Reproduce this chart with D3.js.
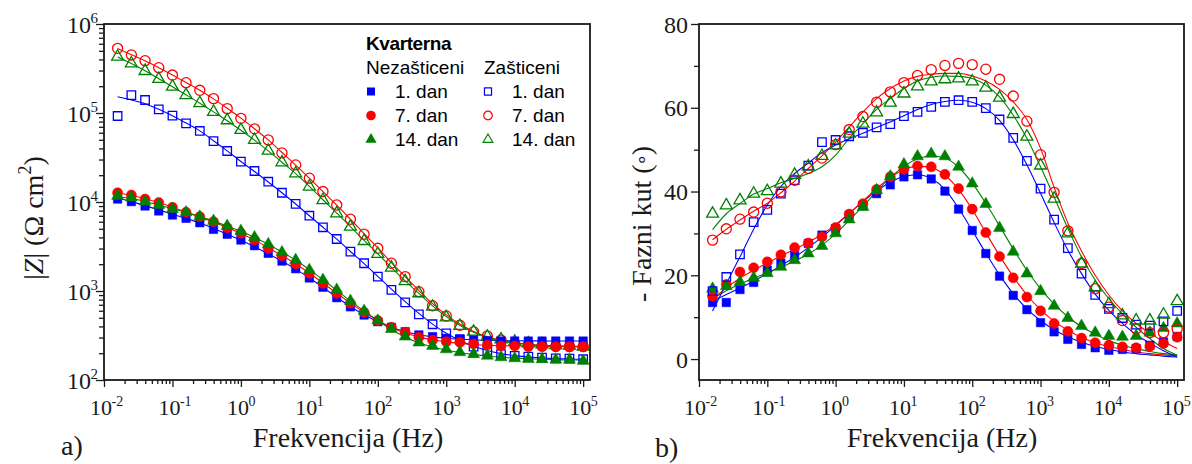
<!DOCTYPE html>
<html>
<head>
<meta charset="utf-8">
<script src="https://cdn.jsdelivr.net/npm/d3@7"></script>
<style>
body { margin:0; background:#fff; }
svg { display:block; }
</style>
</head>
<body>
<div id="chart"></div>
<script>
// measuring frequencies (Hz), 5 per decade
let freq = [0.0158, 0.0251, 0.0398, 0.0631, 0.1, 0.158, 0.251, 0.398, 0.631, 1,
  1.58, 2.51, 3.98, 6.31, 10, 15.8, 25.1, 39.8, 63.1, 100,
  158, 251, 398, 631, 1000, 1580, 2510, 3980, 6310, 10000,
  15800, 25100, 39800, 63100, 100000];

// |Z| (Ohm cm2) - measured
let zNez1 = [10800, 10100, 9020, 7930, 7140, 6560, 5850, 4930, 4340, 3740, 3230, 2650, 2170, 1780, 1400, 1100, 841, 664, 537, 452, 391, 349, 321, 307, 294, 289, 281, 277, 274, 274, 274, 274, 274, 274, 274];
let zNez7 = [12700, 12000, 10800, 9840, 8710, 7660, 6840, 6010, 5140, 4450, 3740, 3020, 2490, 2010, 1580, 1220, 942, 728, 575, 465, 391, 344, 302, 281, 269, 265, 254, 247, 241, 241, 237, 237, 237, 237, 237];
let zNez14 = [11700, 11200, 10100, 9250, 8340, 7660, 6840, 6120, 5370, 4720, 4010, 3350, 2720, 2230, 1720, 1330, 1030, 773, 596, 465, 374, 307, 263, 241, 221, 205, 195, 187, 180, 175, 172, 171, 169, 169, 164];
let zZas1 = [92500, 159000, 140000, 110000, 93300, 76600, 62800, 48400, 37400, 28400, 22300, 16900, 12700, 9510, 7010, 5200, 3840, 2770, 2050, 1450, 1030, 746, 547, 423, 335, 286, 237, 212, 195, 187, 183, 178, 175, 174, 171];
let zZas7 = [533000, 449000, 387000, 323000, 267000, 219000, 180000, 145000, 112000, 87100, 66400, 49800, 35600, 26100, 18500, 13100, 9250, 6400, 4340, 3020, 2050, 1450, 982, 684, 524, 412, 349, 312, 281, 258, 247, 241, 238, 237, 237];
let zZas14 = [430000, 361000, 296000, 241000, 198000, 159000, 129000, 103000, 82800, 64400, 49800, 37700, 27900, 20900, 14900, 10500, 7460, 5270, 3640, 2610, 1830, 1290, 942, 667, 506, 405, 349, 307, 286, 269, 258, 252, 247, 243, 237];

// |Z| - fitted curves
let fitZNez1 = [11000, 10100, 9100, 8150, 7300, 6550, 5800, 5050, 4350, 3720, 3150, 2620, 2160, 1760, 1400, 1100, 850, 670, 540, 452, 392, 350, 322, 305, 294, 287, 282, 279, 277, 276, 275, 275, 274, 274, 274];
let fitZNez7 = [12700, 11900, 10900, 9850, 8750, 7700, 6800, 5950, 5150, 4420, 3730, 3060, 2500, 2010, 1590, 1230, 945, 730, 575, 465, 390, 340, 305, 283, 268, 258, 251, 246, 243, 241, 240, 239, 238, 238, 237];
let fitZNez14 = [11400, 11000, 10100, 9250, 8400, 7650, 6850, 6100, 5350, 4680, 4000, 3350, 2740, 2220, 1740, 1340, 1020, 775, 595, 465, 370, 305, 262, 235, 217, 204, 194, 186, 180, 176, 173, 171, 169, 168, 167];
let fitZZas1 = [152000, 140000, 127000, 110000, 93000, 77000, 63000, 48800, 37500, 28500, 22000, 16800, 12700, 9500, 7000, 5200, 3830, 2780, 2030, 1460, 1050, 760, 560, 425, 335, 278, 240, 215, 198, 188, 181, 177, 174, 172, 171];
let fitZZas7 = [530000, 452000, 386000, 323000, 268000, 220000, 180000, 144000, 113000, 87500, 66500, 49800, 36000, 26000, 18500, 13100, 9200, 6400, 4400, 3050, 2080, 1450, 1010, 720, 540, 425, 350, 305, 278, 262, 252, 246, 242, 240, 239];
let fitZZas14 = [425000, 360000, 298000, 243000, 197000, 160000, 129000, 103000, 82000, 64000, 49500, 37500, 28000, 20800, 15000, 10600, 7500, 5300, 3700, 2620, 1840, 1300, 940, 680, 515, 410, 345, 302, 276, 260, 250, 244, 240, 238, 236];

// -phase angle (deg) - measured
let phNez1 = [13.5, 13.5, 16.6, 18.3, 21.2, 22.9, 24.8, 27.6, 29.6, 31.2, 34.3, 36.6, 39.5, 41.6, 43.5, 44.0, 43.0, 40.1, 35.8, 30.7, 25.2, 19.8, 15.2, 11.8, 8.7, 6.5, 4.7, 3.5, 2.7, 2.1, 2.3, 2.5, 3.3, 4.1, 5.4];
let phNez7 = [15.0, 17.8, 20.8, 21.8, 23.2, 24.9, 26.6, 27.7, 29.2, 31.4, 34.6, 37.1, 40.5, 43.5, 45.3, 46.1, 45.9, 44.1, 40.7, 35.8, 30.2, 24.5, 19.4, 14.8, 11.5, 8.5, 6.6, 5.0, 3.9, 3.3, 2.9, 2.7, 3.0, 3.7, 5.2];
let phNez14 = [16.8, 17.4, 18.4, 19.4, 20.5, 22.0, 23.6, 25.2, 27.0, 30.0, 33.3, 36.3, 40.3, 43.6, 46.5, 48.4, 49.0, 48.4, 45.9, 41.9, 37.0, 31.3, 25.6, 20.4, 16.2, 12.7, 9.8, 7.9, 6.3, 5.5, 5.3, 5.5, 6.3, 7.4, 8.5];
let phZas1 = [16.2, 19.6, 25.0, 32.7, 35.6, 39.5, 42.7, 46.2, 51.8, 52.3, 53.2, 54.0, 55.3, 56.1, 58.0, 59.0, 60.2, 61.4, 61.8, 61.4, 59.9, 57.2, 52.8, 47.3, 40.7, 33.3, 26.5, 20.4, 15.3, 12.0, 9.8, 8.2, 8.0, 9.0, 11.5];
let phZas7 = [28.4, 31.1, 33.4, 35.1, 37.2, 39.9, 42.7, 45.5, 48.0, 51.2, 54.8, 57.9, 61.3, 63.8, 66.0, 67.7, 69.1, 70.1, 70.6, 70.3, 69.2, 66.8, 62.8, 56.8, 48.8, 39.8, 30.6, 22.8, 16.8, 12.4, 9.2, 7.2, 6.3, 6.3, 7.2];
let phZas14 = [34.7, 36.7, 37.9, 39.5, 40.1, 41.9, 44.0, 46.0, 48.5, 51.0, 53.8, 56.2, 58.9, 61.2, 63.4, 65.1, 66.3, 66.8, 67.0, 66.3, 64.8, 62.4, 58.5, 53.1, 46.2, 38.3, 30.0, 22.8, 17.1, 13.1, 10.4, 9.2, 9.2, 10.6, 13.8];

// -phase angle - fitted curves
let fitPhNez1 = [13.8, 15.4, 17.0, 18.6, 20.4, 22.3, 24.3, 26.6, 29.1, 31.9, 34.8, 37.6, 40.1, 42.2, 43.6, 44.0, 43.1, 40.5, 36.0, 30.7, 25.3, 20.1, 15.6, 12.0, 9.2, 7.0, 5.3, 4.0, 3.0, 2.3, 1.7, 1.3, 1.0, 0.7, 0.5];
let fitPhNez7 = [14.3, 17.0, 19.3, 21.2, 22.9, 24.6, 26.2, 27.9, 29.8, 32.1, 34.8, 37.7, 40.7, 43.3, 45.2, 46.0, 45.7, 43.9, 40.5, 35.7, 30.2, 24.7, 19.7, 15.3, 11.8, 9.0, 6.9, 5.2, 3.9, 3.0, 2.3, 1.7, 1.3, 1.0, 0.8];
let fitPhNez14 = [14.4, 16.3, 17.9, 19.3, 20.6, 21.9, 23.4, 25.1, 27.2, 29.9, 33.1, 36.5, 40.0, 43.3, 46.0, 47.8, 48.5, 48.0, 45.8, 42.0, 37.2, 31.8, 26.3, 21.2, 16.8, 13.1, 10.1, 7.7, 5.9, 4.4, 3.3, 2.5, 1.8, 1.3, 1.0];
let fitPhZas1 = [11.5, 18.0, 24.4, 31.0, 36.8, 41.2, 44.3, 46.8, 49.3, 51.1, 52.6, 53.9, 55.3, 56.6, 58.1, 59.6, 60.8, 61.5, 61.8, 61.3, 59.8, 57.0, 52.4, 46.4, 39.6, 32.6, 26.0, 20.4, 15.5, 11.6, 8.5, 5.8, 3.8, 2.0, 0.5];
let fitPhZas7 = [28.5, 31.0, 33.2, 35.3, 37.2, 39.7, 42.5, 45.5, 48.5, 51.8, 55.4, 59.0, 62.2, 64.6, 66.4, 67.5, 68.0, 68.2, 68.2, 67.6, 66.4, 64.4, 61.4, 57.2, 50.3, 41.0, 32.5, 25.8, 20.0, 15.3, 11.5, 8.5, 6.2, 4.2, 2.5];
let fitPhZas14 = [30.9, 34.7, 37.1, 39.4, 40.7, 42.1, 43.1, 44.3, 45.9, 48.7, 52.7, 56.2, 59.6, 62.2, 64.6, 66.4, 67.3, 67.6, 67.5, 67.0, 65.4, 62.6, 58.2, 52.7, 45.9, 38.7, 31.2, 24.4, 18.8, 14.4, 10.8, 7.6, 4.9, 2.5, 0.9];

// axis ticks
let freqTicks = [1e-2, 1e-1, 1, 10, 100, 1e3, 1e4, 1e5];
let freqExp = ["-2", "-1", "0", "1", "2", "3", "4", "5"];
let zTicks = [1e2, 1e3, 1e4, 1e5, 1e6];
let zExp = ["2", "3", "4", "5", "6"];
let phTicks = [0, 20, 40, 60, 80];
let phMinor = [10, 30, 50, 70];
let dayLabels = ["1. dan", "7. dan", "14. dan"];

let serif = "'Liberation Serif','Times New Roman',serif";
let sans = "'Liberation Sans',Arial,sans-serif";
let ink = "#1a1a1a";
let colors = ["#0000ff", "#ff0000", "#008000"];
let shapes = [d3.symbolSquare, d3.symbolCircle, d3.symbolTriangle];
let sizes = [72, 80, 62];

let svg = d3.select("#chart").append("svg")
  .attr("width", 1192)
  .attr("height", 464);

// log minor ticks between decades
let minorLog = (decades, max) => {
  let out = [];
  decades.slice(0, -1).forEach(d => {
    for (let m = 2; m <= 9; m++) if (d * m <= max) out.push(d * m);
  });
  return out;
}

let powLabel = (x, y, exp, anchor, fs) => {
  let t = svg.append("text")
    .attr("x", x).attr("y", y)
    .attr("text-anchor", anchor)
    .style("font-family", serif)
    .style("font-size", fs + "px")
    .attr("fill", ink);
  t.append("tspan").text("10");
  t.append("tspan").attr("dy", -Math.round(fs * 0.42)).attr("dx", -0.5)
    .style("font-size", Math.round(fs * 0.63) + "px").text(exp);
}

let tickAxis = (axis, transform) => {
  svg.append("g")
    .attr("transform", transform)
    .attr("color", ink)
    .call(axis)
    .call(g => g.select(".domain").remove())
    .selectAll("line").attr("stroke-width", 1.3);
}

let drawSeries = (x, y, series) => {
  let line = d3.line()
    .x((d, i) => x(freq[i]))
    .y(d => y(d))
    .curve(d3.curveMonotoneX);

  series.forEach(s => {
    svg.append("path")
      .datum(s.fit)
      .attr("d", line)
      .attr("fill", "none")
      .attr("stroke", s.color)
      .attr("stroke-width", 1.1);
  });

  series.forEach(s => {
    svg.append("g").selectAll("path")
      .data(s.pts)
      .enter()
      .append("path")
      .attr("transform", (d, i) => "translate(" + x(freq[i]) + "," + y(d) + ")")
      .attr("d", d3.symbol().type(s.shape).size(s.size))
      .attr("fill", s.open ? "none" : s.color)
      .attr("stroke", s.color)
      .attr("stroke-width", s.open ? 1.3 : 0.5);
  });
}

let xMax = 125900;

// ---------------- a) |Z| ----------------
let xL = d3.scaleLog().domain([0.01, xMax]).range([104, 590]);
let yL = d3.scaleLog().domain([100, 1e6]).range([380, 24]);

let zSeries = [
  {pts: zZas1, fit: fitZZas1, open: true},
  {pts: zZas7, fit: fitZZas7, open: true},
  {pts: zZas14, fit: fitZZas14, open: true},
  {pts: zNez1, fit: fitZNez1, open: false},
  {pts: zNez7, fit: fitZNez7, open: false},
  {pts: zNez14, fit: fitZNez14, open: false}
].map((s, i) => Object.assign(s, {color: colors[i % 3], shape: shapes[i % 3], size: sizes[i % 3]}));

drawSeries(xL, yL, zSeries);

tickAxis(d3.axisBottom(xL).tickValues(freqTicks).tickSize(7).tickFormat(""), "translate(0,380)");
tickAxis(d3.axisBottom(xL).tickValues(minorLog(freqTicks, xMax)).tickSize(4).tickFormat(""), "translate(0,380)");
tickAxis(d3.axisLeft(yL).tickValues(zTicks).tickSize(8).tickFormat(""), "translate(104,0)");
tickAxis(d3.axisLeft(yL).tickValues(minorLog(zTicks, 1e6)).tickSize(5).tickFormat(""), "translate(104,0)");

svg.append("rect")
  .attr("x", 104).attr("y", 24)
  .attr("width", 486).attr("height", 356)
  .attr("fill", "none")
  .attr("stroke", ink)
  .attr("stroke-width", 1.8);

freqTicks.forEach((t, i) => powLabel(xL(t) - 14, 415, freqExp[i], "start", 22));
zTicks.forEach((t, i) => powLabel(98, yL(t) + 9, zExp[i], "end", 24));

// legend
let legend = svg.append("g").style("font-family", sans).style("font-size", "19px").attr("fill", "#000");
legend.append("text").attr("x", 366).attr("y", 50).style("font-weight", "bold").style("letter-spacing", "-0.4px").text("Kvarterna");
legend.append("text").attr("x", 366).attr("y", 74).text("Nezašticeni");
legend.append("text").attr("x", 484).attr("y", 74).text("Zašticeni");
dayLabels.forEach((lab, i) => {
  let yy = 97.5 + i * 24;
  legend.append("path")
    .attr("transform", "translate(371," + (yy - 6) + ")")
    .attr("d", d3.symbol().type(shapes[i]).size(sizes[i] - 8))
    .attr("fill", colors[i]);
  legend.append("text").attr("x", 395).attr("y", yy).text(lab);
  legend.append("path")
    .attr("transform", "translate(488," + (yy - 6) + ")")
    .attr("d", d3.symbol().type(shapes[i]).size(sizes[i] - 22))
    .attr("fill", "none")
    .attr("stroke", colors[i])
    .attr("stroke-width", 1.2);
  legend.append("text").attr("x", 512).attr("y", yy).text(lab);
});

// axis titles
svg.append("text")
  .attr("x", 348).attr("y", 447)
  .attr("text-anchor", "middle")
  .style("font-family", serif).style("font-size", "28px").attr("fill", ink)
  .text("Frekvencija (Hz)");

let yt = svg.append("text")
  .attr("transform", "translate(43,218) rotate(-90)")
  .attr("text-anchor", "middle")
  .style("font-family", serif).style("font-size", "28px").attr("fill", ink);
yt.append("tspan").text("|");
yt.append("tspan").style("font-style", "italic").text("Z");
yt.append("tspan").text("| (Ω cm");
yt.append("tspan").attr("dy", -12).style("font-size", "18px").text("2");
yt.append("tspan").attr("dy", 12).text(")");

svg.append("text")
  .attr("x", 61).attr("y", 455)
  .style("font-family", serif).style("font-size", "28px").attr("fill", ink)
  .text("a)");

// ---------------- b) phase ----------------
let xR = d3.scaleLog().domain([0.01, xMax]).range([699, 1184]);
let yR = d3.scaleLinear().domain([-5, 80]).range([380, 24]);

let phSeries = [
  {pts: phNez1, fit: fitPhNez1, open: false},
  {pts: phNez7, fit: fitPhNez7, open: false},
  {pts: phNez14, fit: fitPhNez14, open: false},
  {pts: phZas1, fit: fitPhZas1, open: true},
  {pts: phZas7, fit: fitPhZas7, open: true},
  {pts: phZas14, fit: fitPhZas14, open: true}
].map((s, i) => Object.assign(s, {color: colors[i % 3], shape: shapes[i % 3], size: sizes[i % 3]}));

drawSeries(xR, yR, phSeries);

tickAxis(d3.axisBottom(xR).tickValues(freqTicks).tickSize(7).tickFormat(""), "translate(0,380)");
tickAxis(d3.axisBottom(xR).tickValues(minorLog(freqTicks, xMax)).tickSize(4).tickFormat(""), "translate(0,380)");
tickAxis(d3.axisLeft(yR).tickValues(phTicks).tickSize(8).tickFormat(""), "translate(699,0)");
tickAxis(d3.axisLeft(yR).tickValues(phMinor).tickSize(5).tickFormat(""), "translate(699,0)");

svg.append("rect")
  .attr("x", 699).attr("y", 24)
  .attr("width", 485).attr("height", 356)
  .attr("fill", "none")
  .attr("stroke", ink)
  .attr("stroke-width", 1.8);

freqTicks.forEach((t, i) => powLabel(xR(t) - 15, 415, freqExp[i], "start", 22));
phTicks.forEach(t => {
  svg.append("text")
    .attr("x", 688).attr("y", yR(t) + 8.5)
    .attr("text-anchor", "end")
    .style("font-family", serif).style("font-size", "24px").attr("fill", ink)
    .text(t);
});

svg.append("text")
  .attr("x", 942).attr("y", 447)
  .attr("text-anchor", "middle")
  .style("font-family", serif).style("font-size", "28px").attr("fill", ink)
  .text("Frekvencija (Hz)");

let pt = svg.append("text")
  .attr("transform", "translate(651,224) rotate(-90)")
  .attr("text-anchor", "middle")
  .style("font-family", serif).style("font-size", "28px").attr("fill", ink);
pt.append("tspan").text("- Fazni kut (");
pt.append("tspan").attr("dx", -2).style("font-size", "20px").attr("dy", -2).text("∘");
pt.append("tspan").attr("dx", -2).attr("dy", 2).text(")");

svg.append("text")
  .attr("x", 655).attr("y", 457)
  .style("font-family", serif).style("font-size", "28px").attr("fill", ink)
  .text("b)");
</script>
</body>
</html>
